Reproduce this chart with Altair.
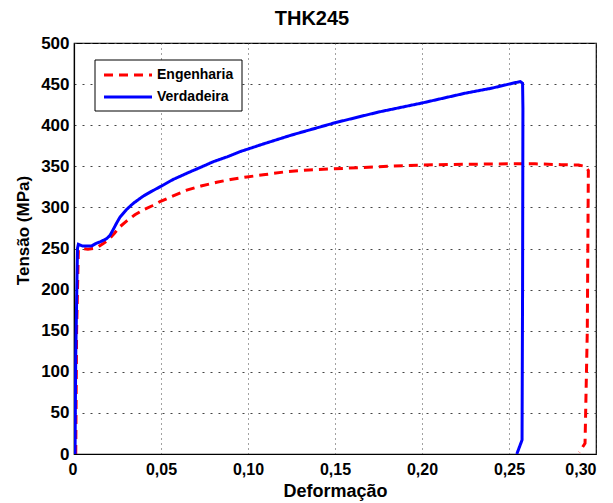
import altair as alt
import pandas as pd

# Engineering curve (Engenharia)
eng_x = [0.0010, 0.0015, 0.0025, 0.0050, 0.0080, 0.0110, 0.0140, 0.0168, 0.0200, 0.0230,
         0.0264, 0.0300, 0.0350, 0.0398, 0.0450, 0.0494, 0.0570, 0.0648, 0.0730, 0.0820,
         0.0900, 0.0993, 0.1100, 0.1222, 0.1350, 0.1500, 0.1750, 0.2000, 0.2250, 0.2500,
         0.2650, 0.2800, 0.2900, 0.2937, 0.2956, 0.2950, 0.2937, 0.2904]
eng_y = [0, 150, 248, 250, 249, 250, 252, 256, 261, 268,
         276.5, 283, 291, 297, 302, 307, 314, 321, 326, 330.5,
         334, 337, 340, 343.5, 345.5, 347, 349.5, 351.6, 352.5, 353,
         353, 352, 351.5, 350, 345, 150, 13, 2]

# True curve (Verdadeira)
true_x = [0.0006, 0.0010, 0.0020, 0.0025, 0.0050, 0.0080, 0.0100, 0.0125, 0.0149, 0.0169,
          0.0188, 0.0207, 0.0225, 0.0245, 0.0264, 0.0300, 0.0341, 0.0400, 0.0450, 0.0494, 0.0570,
          0.0648, 0.0730, 0.0801, 0.0880, 0.0954, 0.1100, 0.1250, 0.1500, 0.1750, 0.2000,
          0.2250, 0.2400, 0.2500, 0.2540, 0.2565, 0.2578, 0.2580, 0.2578, 0.2575, 0.2545]
true_y = [0, 120, 250, 255, 253, 253, 253, 256, 258, 260,
          262, 266, 273, 281, 288, 297, 305, 314, 320, 325, 334,
          341.5, 349, 355.6, 361.5, 367.8, 378, 388, 403, 416, 427,
          439, 445, 450, 452, 453, 451, 420, 200, 17, 0]

series = ["Engenharia", "Verdadeira"]
colors = ["#ff0000", "#0000ff"]
dashes = [[9, 6], [1, 0]]

rows = []
for i, (x, y) in enumerate(zip(eng_x, eng_y)):
    rows.append({"x": x, "y": y, "serie": series[0], "ord": i})
for i, (x, y) in enumerate(zip(true_x, true_y)):
    rows.append({"x": x, "y": y, "serie": series[1], "ord": i})
df = pd.DataFrame(rows)

font = "Liberation Sans"

common_axis = dict(labelFont=font, labelFontWeight="bold", labelColor="black",
                   titleFont=font, titleFontWeight="bold", titleColor="black",
                   domainColor="black", domainWidth=1.2, ticks=False,
                   gridColor="#444444", gridWidth=1)

lines = alt.Chart(df).mark_line(strokeWidth=3, clip=True).encode(
    x=alt.X("x:Q",
            scale=alt.Scale(domain=[0, 0.3], nice=False),
            axis=alt.Axis(title="Deformação",
                          values=[0, 0.05, 0.10, 0.15, 0.20, 0.25, 0.30],
                          labelExpr="datum.value == 0 ? '0' : replace(format(datum.value, '.2f'), '.', ',')",
                          labelOffset=alt.ExprRef(expr="datum.value == 0 ? -6 : 0"),
                          gridDash=[1, 4], titlePadding=5, labelPadding=7,
                          labelFontSize=16, titleFontSize=18, **common_axis)),
    y=alt.Y("y:Q",
            scale=alt.Scale(domain=[0, 500], nice=False),
            axis=alt.Axis(title="Tensão (MPa)",
                          values=list(range(0, 501, 50)),
                          gridDash=[2, 6], titlePadding=8, labelPadding=5,
                          titleY=187,
                          labelFontSize=17, titleFontSize=17, **common_axis)),
    color=alt.Color("serie:N",
                    scale=alt.Scale(domain=series, range=colors),
                    legend=None),
    strokeDash=alt.StrokeDash("serie:N",
                              scale=alt.Scale(domain=series, range=dashes),
                              legend=None),
    order=alt.Order("ord:Q"),
)

# manual legend (MATLAB-style box)
leg_df = pd.DataFrame({"serie": series})
leg_box = alt.Chart(leg_df.head(1)).mark_rect(
    fill="white", stroke="black", strokeWidth=1
).encode(x=alt.value(21), x2=alt.value(168), y=alt.value(17), y2=alt.value(68))

leg_red = alt.Chart(leg_df.head(1)).mark_rule(
    color=colors[0], strokeWidth=3, strokeDash=dashes[0]
).encode(x=alt.value(30), x2=alt.value(78), y=alt.value(32))
leg_blue = alt.Chart(leg_df.head(1)).mark_rule(
    color=colors[1], strokeWidth=3
).encode(x=alt.value(30), x2=alt.value(78), y=alt.value(54))
leg_t1 = alt.Chart(leg_df.head(1)).mark_text(
    text=series[0], align="left", baseline="middle", font=font, fontSize=14,
    fontWeight="bold", color="black"
).encode(x=alt.value(83), y=alt.value(32))
leg_t2 = alt.Chart(leg_df.head(1)).mark_text(
    text=series[1], align="left", baseline="middle", font=font, fontSize=14,
    fontWeight="bold", color="black"
).encode(x=alt.value(83), y=alt.value(54))

chart = alt.layer(lines, leg_box, leg_red, leg_blue, leg_t1, leg_t2).properties(
    width=522,
    height=411,
    title=alt.TitleParams("THK245", fontSize=20, font=font, fontWeight="bold",
                          anchor="middle", dx=-23, offset=5, color="black"),
    autosize=alt.AutoSizeParams(type="none"),
    padding={"left": 74, "top": 43, "right": 17, "bottom": 49},
    background="white",
).configure_view(
    stroke="black", strokeWidth=1.2
)

chart.save("out.html", embed_options={"renderer": "svg", "actions": False})
